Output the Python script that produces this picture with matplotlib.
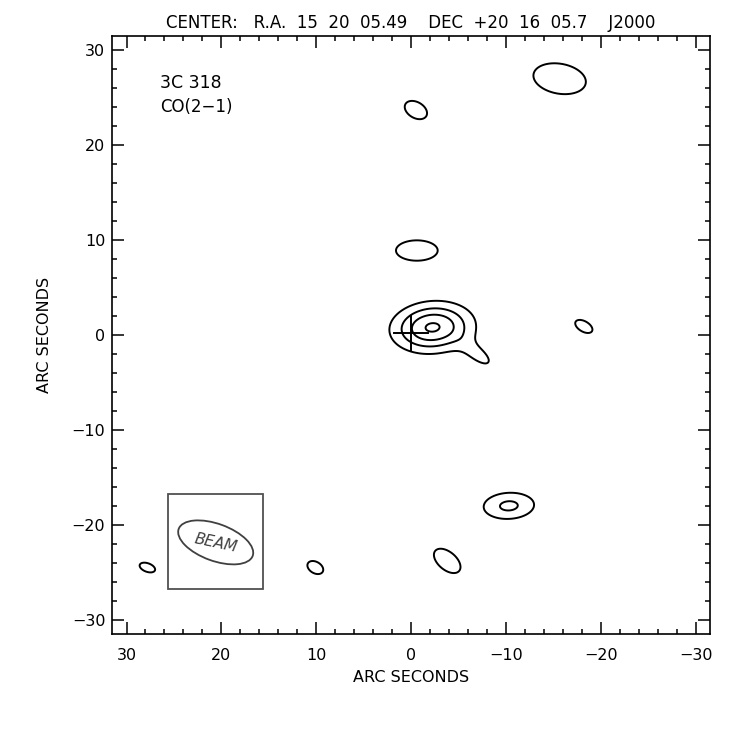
import numpy as np
import matplotlib
matplotlib.use('Agg')
import matplotlib.pyplot as plt
from matplotlib.patches import Ellipse, Rectangle
from matplotlib.ticker import MultipleLocator

#emission components (arcsec), amplitude in units of the first contour
src_x   = [-2.25, -6.1, -7.4, -15.65, -0.5, -0.6, -18.2, -10.3, -3.8, 27.8, 10.1]
src_y   = [ 0.8,  -1.5, -2.3,  27.0, 23.7,  8.9,   0.9, -18.0, -23.8, -24.5, -24.5]
src_amp = [ 4.15,  0.5,  1.2,   1.5,  1.5,  1.5,   1.5,  2.21,  1.5,  1.5,  1.5]
sig_a   = [ 2.7,   1.4,  1.2,   3.1,  1.41, 2.44,  1.11, 2.11,  1.83, 0.95, 1.0]
sig_b   = [ 1.65,  1.0,  0.55,  1.75, 0.93, 1.19,  0.61, 1.09,  1.05, 0.5,  0.67]
src_pa  = [-5,    55,   38,    10,   30,    0,    30,    -3,    40,   20,   30]

levels = [1, 2, 3, 4]

#beam and reference cross
beam_xy = (20.6, -21.85)
beam_w, beam_h, beam_pa = 8.3, 3.9, 20
box_x, box_y, box_size = 15.6, -26.8, 10.0
cross_x, cross_y, cross_r = 0.0, 0.2, 1.8

title = 'CENTER:   R.A.  15  20  05.49    DEC  +20  16  05.7    J2000'
lim = 31.5

#build the map
g = np.linspace(-lim, lim, 631)
X, Y = np.meshgrid(g, g)
Z = np.zeros_like(X)
for x0, y0, a, sa, sb, pa in zip(src_x, src_y, src_amp, sig_a, sig_b, src_pa):
    t = np.radians(pa)
    u = (X-x0)*np.cos(t) + (Y-y0)*np.sin(t)
    v = -(X-x0)*np.sin(t) + (Y-y0)*np.cos(t)
    Z += a*np.exp(-u**2/(2*sa**2) - v**2/(2*sb**2))

fig = plt.figure(figsize=(7.47, 7.47), dpi=100)
ax = fig.add_axes([0.1503, 0.1513, 0.8002, 0.8005])

ax.contour(X, Y, Z, levels=levels, colors='black', linewidths=1.4)

#cross at the centre position
ax.plot([cross_x, cross_x], [cross_y-cross_r, cross_y+cross_r], color='black', lw=1.4)
ax.plot([cross_x-cross_r, cross_x+cross_r], [cross_y, cross_y], color='black', lw=1.4)

#beam box
ax.add_patch(Rectangle((box_x, box_y), box_size, box_size, fill=False, ec='#505050', lw=1.3))
ax.add_patch(Ellipse(beam_xy, beam_w, beam_h, angle=beam_pa, fill=False, ec='#404040', lw=1.3))
ax.text(beam_xy[0], beam_xy[1]-0.1, 'BEAM', color='#404040', fontsize=11, style='italic',
        rotation=-12, ha='center', va='center')

ax.text(26.5, 26.6, '3C 318', fontsize=12.5, va='center')
ax.text(26.5, 24.0, 'CO(2\u22121)', fontsize=12, va='center')

ax.set_xlim(lim, -lim)
ax.set_ylim(-lim, lim)
ax.xaxis.set_major_locator(MultipleLocator(10))
ax.xaxis.set_minor_locator(MultipleLocator(2))
ax.yaxis.set_major_locator(MultipleLocator(10))
ax.yaxis.set_minor_locator(MultipleLocator(2))
ax.tick_params(which='both', direction='in', top=True, right=True, width=1.1, labelsize=11.5)
ax.tick_params(which='major', length=8.6)
ax.tick_params(which='minor', length=3.6)
ax.tick_params(axis='x', pad=10)
ax.tick_params(axis='y', pad=5)
for s in ax.spines.values():
    s.set_linewidth(1.2)

ax.set_xlabel('ARC SECONDS', fontsize=11.5, labelpad=5)
ax.set_ylabel('ARC SECONDS', fontsize=11.5, labelpad=14)
ax.set_title(title, fontsize=12, pad=6)

plt.savefig('out.png', dpi=100)
